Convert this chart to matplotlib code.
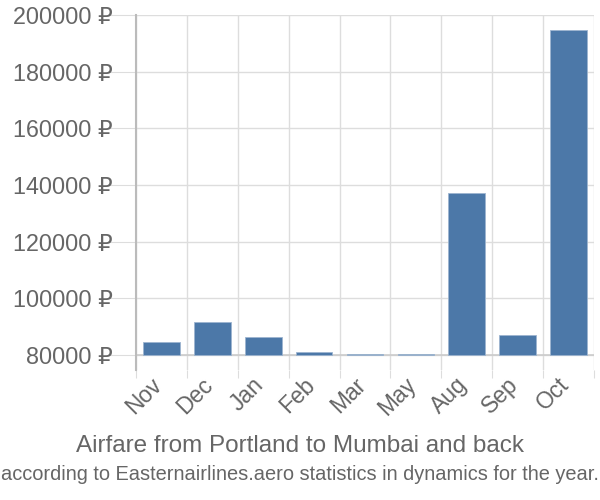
import matplotlib
matplotlib.use("Agg")
import matplotlib.pyplot as plt
from matplotlib.transforms import ScaledTranslation

months = ["Nov", "Dec", "Jan", "Feb", "Mar", "May", "Aug", "Sep", "Oct"]
prices = [84600, 91800, 86200, 81200, 80450, 80400, 137000, 87200, 194700]
yticks = [80000, 100000, 120000, 140000, 160000, 180000, 200000]

plt.rcParams['font.family'] = ['Liberation Sans', 'DejaVu Sans']

fig = plt.figure(figsize=(6, 5), dpi=100)
ax = fig.add_axes([136 / 600, 1 - 370 / 500, 458 / 600, 355 / 500])

x = range(len(months))
base = 80000
ax.bar(x, [p - base for p in prices], bottom=base, width=0.72,
       color='#4c78a8', edgecolor='#9db5d0', linewidth=0.6, zorder=3)

ax.set_xlim(-0.5, len(months) - 0.5)
ax.set_ylim(74700, 200000)
ax.set_yticks(yticks)
ax.set_yticklabels([f"{v} ₽" for v in yticks])
ax.set_xticks([i + 0.5 for i in range(-1, len(months))], minor=False)
ax.set_xticklabels([])
ax.set_xticks(list(x), minor=True)
ax.set_xticklabels(months, minor=True, rotation=45, ha='right', va='center',
                   rotation_mode='anchor')

ax.grid(True, axis='both', color='#dddddd', linewidth=1, zorder=0)
ax.tick_params(axis='y', length=20, color='#dddddd', labelsize=16.8, labelcolor='#666666', pad=-3)
ax.tick_params(axis='x', which='major', length=6, color='#dddddd')
ax.tick_params(axis='x', which='minor', length=0, labelsize=16.5, labelcolor='#666666', pad=8)
ax.axhline(80000, color='#cccccc', linewidth=1.2, zorder=2)

# nudge month labels a little to the left
shift = ScaledTranslation(-3 / 100, 0, fig.dpi_scale_trans)
for lbl in ax.get_xticklabels(minor=True):
    lbl.set_transform(lbl.get_transform() + shift)

for s in ['top', 'right', 'bottom']:
    ax.spines[s].set_visible(False)
ax.spines['left'].set_color('#bbbbbb')
ax.spines['left'].set_linewidth(1.5)

fig.text(0.5, 1 - 446 / 500, "Airfare from Portland to Mumbai and back",
         ha='center', va='center', fontsize=17.5, color='#666666')
fig.text(0.5, 1 - 475 / 500,
         "according to Easternairlines.aero statistics in dynamics for the year.",
         ha='center', va='center', fontsize=14.4, color='#666666',
         family=['Liberation Sans Narrow', 'Liberation Sans'])

fig.savefig("out.png", dpi=100)
